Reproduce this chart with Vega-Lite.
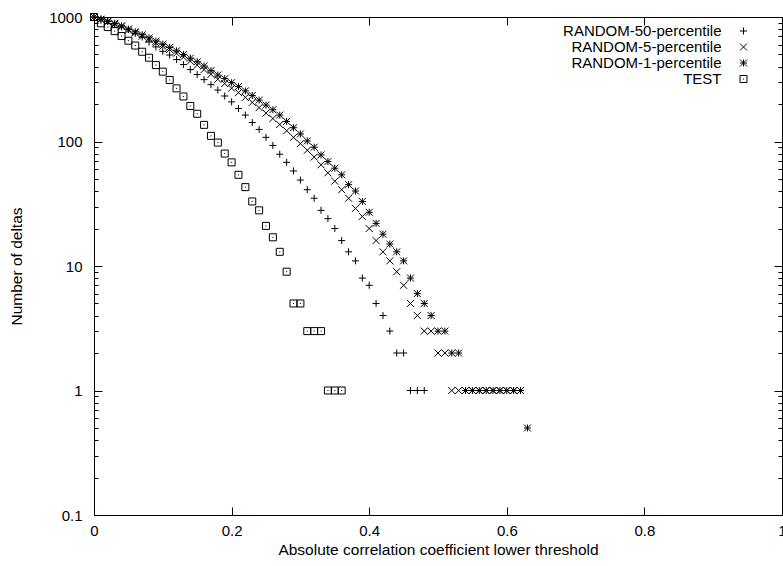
{
  "$schema": "https://vega.github.io/schema/vega-lite/v6.json",
  "width": 688,
  "height": 498,
  "autosize": {"type": "none"},
  "padding": {"left": 94, "top": 17, "right": 1, "bottom": 51},
  "background": "white",
  "config": {
    "view": {"stroke": "black", "strokeWidth": 1},
    "font": "Liberation Sans",
    "axis": {
      "domain": false,
      "grid": false,
      "labelFont": "Liberation Sans",
      "labelFontSize": 15,
      "labelColor": "black",
      "tickColor": "black",
      "tickWidth": 1,
      "titleFont": "Liberation Sans",
      "titleFontSize": 15.5,
      "titleFontWeight": "normal",
      "titleColor": "black",
      "labelOverlap": false,
      "labelFlush": false
    },
    "legend": {
      "labelFont": "Liberation Sans",
      "labelFontSize": 15,
      "labelColor": "black"
    }
  },
  "datasets": {
    "pts": [
      {"series": "RANDOM-50-percentile", "x": 0, "y": 1000},
      {"series": "RANDOM-50-percentile", "x": 0.01, "y": 965},
      {"series": "RANDOM-50-percentile", "x": 0.02, "y": 925},
      {"series": "RANDOM-50-percentile", "x": 0.03, "y": 880},
      {"series": "RANDOM-50-percentile", "x": 0.04, "y": 835},
      {"series": "RANDOM-50-percentile", "x": 0.05, "y": 790},
      {"series": "RANDOM-50-percentile", "x": 0.06, "y": 740},
      {"series": "RANDOM-50-percentile", "x": 0.07, "y": 690},
      {"series": "RANDOM-50-percentile", "x": 0.08, "y": 630},
      {"series": "RANDOM-50-percentile", "x": 0.09, "y": 575},
      {"series": "RANDOM-50-percentile", "x": 0.10, "y": 530},
      {"series": "RANDOM-50-percentile", "x": 0.11, "y": 495},
      {"series": "RANDOM-50-percentile", "x": 0.12, "y": 455},
      {"series": "RANDOM-50-percentile", "x": 0.13, "y": 415},
      {"series": "RANDOM-50-percentile", "x": 0.14, "y": 378},
      {"series": "RANDOM-50-percentile", "x": 0.15, "y": 345},
      {"series": "RANDOM-50-percentile", "x": 0.16, "y": 314},
      {"series": "RANDOM-50-percentile", "x": 0.17, "y": 286},
      {"series": "RANDOM-50-percentile", "x": 0.18, "y": 259},
      {"series": "RANDOM-50-percentile", "x": 0.19, "y": 232},
      {"series": "RANDOM-50-percentile", "x": 0.20, "y": 208},
      {"series": "RANDOM-50-percentile", "x": 0.21, "y": 184},
      {"series": "RANDOM-50-percentile", "x": 0.22, "y": 163},
      {"series": "RANDOM-50-percentile", "x": 0.23, "y": 142},
      {"series": "RANDOM-50-percentile", "x": 0.24, "y": 125},
      {"series": "RANDOM-50-percentile", "x": 0.25, "y": 108},
      {"series": "RANDOM-50-percentile", "x": 0.26, "y": 93},
      {"series": "RANDOM-50-percentile", "x": 0.27, "y": 79},
      {"series": "RANDOM-50-percentile", "x": 0.28, "y": 68},
      {"series": "RANDOM-50-percentile", "x": 0.29, "y": 58},
      {"series": "RANDOM-50-percentile", "x": 0.30, "y": 49},
      {"series": "RANDOM-50-percentile", "x": 0.31, "y": 41},
      {"series": "RANDOM-50-percentile", "x": 0.32, "y": 35},
      {"series": "RANDOM-50-percentile", "x": 0.33, "y": 28},
      {"series": "RANDOM-50-percentile", "x": 0.34, "y": 24},
      {"series": "RANDOM-50-percentile", "x": 0.35, "y": 20},
      {"series": "RANDOM-50-percentile", "x": 0.36, "y": 16},
      {"series": "RANDOM-50-percentile", "x": 0.37, "y": 13},
      {"series": "RANDOM-50-percentile", "x": 0.38, "y": 11},
      {"series": "RANDOM-50-percentile", "x": 0.39, "y": 8},
      {"series": "RANDOM-50-percentile", "x": 0.40, "y": 7},
      {"series": "RANDOM-50-percentile", "x": 0.41, "y": 5},
      {"series": "RANDOM-50-percentile", "x": 0.42, "y": 4},
      {"series": "RANDOM-50-percentile", "x": 0.43, "y": 3},
      {"series": "RANDOM-50-percentile", "x": 0.44, "y": 2},
      {"series": "RANDOM-50-percentile", "x": 0.45, "y": 2},
      {"series": "RANDOM-50-percentile", "x": 0.46, "y": 1},
      {"series": "RANDOM-50-percentile", "x": 0.47, "y": 1},
      {"series": "RANDOM-50-percentile", "x": 0.48, "y": 1},

      {"series": "RANDOM-5-percentile", "x": 0, "y": 1000},
      {"series": "RANDOM-5-percentile", "x": 0.01, "y": 955},
      {"series": "RANDOM-5-percentile", "x": 0.02, "y": 915},
      {"series": "RANDOM-5-percentile", "x": 0.03, "y": 875},
      {"series": "RANDOM-5-percentile", "x": 0.04, "y": 835},
      {"series": "RANDOM-5-percentile", "x": 0.05, "y": 785},
      {"series": "RANDOM-5-percentile", "x": 0.06, "y": 745},
      {"series": "RANDOM-5-percentile", "x": 0.07, "y": 700},
      {"series": "RANDOM-5-percentile", "x": 0.08, "y": 660},
      {"series": "RANDOM-5-percentile", "x": 0.09, "y": 620},
      {"series": "RANDOM-5-percentile", "x": 0.10, "y": 583},
      {"series": "RANDOM-5-percentile", "x": 0.11, "y": 548},
      {"series": "RANDOM-5-percentile", "x": 0.12, "y": 512},
      {"series": "RANDOM-5-percentile", "x": 0.13, "y": 476},
      {"series": "RANDOM-5-percentile", "x": 0.14, "y": 442},
      {"series": "RANDOM-5-percentile", "x": 0.15, "y": 410},
      {"series": "RANDOM-5-percentile", "x": 0.16, "y": 378},
      {"series": "RANDOM-5-percentile", "x": 0.17, "y": 346},
      {"series": "RANDOM-5-percentile", "x": 0.18, "y": 316},
      {"series": "RANDOM-5-percentile", "x": 0.19, "y": 292},
      {"series": "RANDOM-5-percentile", "x": 0.20, "y": 268},
      {"series": "RANDOM-5-percentile", "x": 0.21, "y": 247},
      {"series": "RANDOM-5-percentile", "x": 0.22, "y": 226},
      {"series": "RANDOM-5-percentile", "x": 0.23, "y": 206},
      {"series": "RANDOM-5-percentile", "x": 0.24, "y": 187},
      {"series": "RANDOM-5-percentile", "x": 0.25, "y": 169},
      {"series": "RANDOM-5-percentile", "x": 0.26, "y": 153},
      {"series": "RANDOM-5-percentile", "x": 0.27, "y": 137},
      {"series": "RANDOM-5-percentile", "x": 0.28, "y": 122},
      {"series": "RANDOM-5-percentile", "x": 0.29, "y": 108},
      {"series": "RANDOM-5-percentile", "x": 0.30, "y": 96},
      {"series": "RANDOM-5-percentile", "x": 0.31, "y": 85},
      {"series": "RANDOM-5-percentile", "x": 0.32, "y": 75},
      {"series": "RANDOM-5-percentile", "x": 0.33, "y": 65},
      {"series": "RANDOM-5-percentile", "x": 0.34, "y": 56},
      {"series": "RANDOM-5-percentile", "x": 0.35, "y": 48},
      {"series": "RANDOM-5-percentile", "x": 0.36, "y": 41},
      {"series": "RANDOM-5-percentile", "x": 0.37, "y": 35},
      {"series": "RANDOM-5-percentile", "x": 0.38, "y": 29},
      {"series": "RANDOM-5-percentile", "x": 0.39, "y": 25},
      {"series": "RANDOM-5-percentile", "x": 0.40, "y": 20},
      {"series": "RANDOM-5-percentile", "x": 0.41, "y": 16},
      {"series": "RANDOM-5-percentile", "x": 0.42, "y": 13},
      {"series": "RANDOM-5-percentile", "x": 0.43, "y": 11},
      {"series": "RANDOM-5-percentile", "x": 0.44, "y": 9},
      {"series": "RANDOM-5-percentile", "x": 0.45, "y": 7},
      {"series": "RANDOM-5-percentile", "x": 0.46, "y": 5},
      {"series": "RANDOM-5-percentile", "x": 0.47, "y": 4},
      {"series": "RANDOM-5-percentile", "x": 0.48, "y": 3},
      {"series": "RANDOM-5-percentile", "x": 0.49, "y": 3},
      {"series": "RANDOM-5-percentile", "x": 0.50, "y": 2},
      {"series": "RANDOM-5-percentile", "x": 0.51, "y": 2},
      {"series": "RANDOM-5-percentile", "x": 0.52, "y": 1},
      {"series": "RANDOM-5-percentile", "x": 0.53, "y": 1},
      {"series": "RANDOM-5-percentile", "x": 0.54, "y": 1},
      {"series": "RANDOM-5-percentile", "x": 0.55, "y": 1},
      {"series": "RANDOM-5-percentile", "x": 0.56, "y": 1},
      {"series": "RANDOM-5-percentile", "x": 0.57, "y": 1},
      {"series": "RANDOM-5-percentile", "x": 0.58, "y": 1},
      {"series": "RANDOM-5-percentile", "x": 0.59, "y": 1},
      {"series": "RANDOM-5-percentile", "x": 0.60, "y": 1},
      {"series": "RANDOM-5-percentile", "x": 0.61, "y": 1},

      {"series": "RANDOM-1-percentile", "x": 0, "y": 1000},
      {"series": "RANDOM-1-percentile", "x": 0.01, "y": 960},
      {"series": "RANDOM-1-percentile", "x": 0.02, "y": 925},
      {"series": "RANDOM-1-percentile", "x": 0.03, "y": 890},
      {"series": "RANDOM-1-percentile", "x": 0.04, "y": 850},
      {"series": "RANDOM-1-percentile", "x": 0.05, "y": 800},
      {"series": "RANDOM-1-percentile", "x": 0.06, "y": 760},
      {"series": "RANDOM-1-percentile", "x": 0.07, "y": 720},
      {"series": "RANDOM-1-percentile", "x": 0.08, "y": 680},
      {"series": "RANDOM-1-percentile", "x": 0.09, "y": 640},
      {"series": "RANDOM-1-percentile", "x": 0.10, "y": 605},
      {"series": "RANDOM-1-percentile", "x": 0.11, "y": 570},
      {"series": "RANDOM-1-percentile", "x": 0.12, "y": 535},
      {"series": "RANDOM-1-percentile", "x": 0.13, "y": 500},
      {"series": "RANDOM-1-percentile", "x": 0.14, "y": 467},
      {"series": "RANDOM-1-percentile", "x": 0.15, "y": 437},
      {"series": "RANDOM-1-percentile", "x": 0.16, "y": 404},
      {"series": "RANDOM-1-percentile", "x": 0.17, "y": 371},
      {"series": "RANDOM-1-percentile", "x": 0.18, "y": 342},
      {"series": "RANDOM-1-percentile", "x": 0.19, "y": 320},
      {"series": "RANDOM-1-percentile", "x": 0.20, "y": 297},
      {"series": "RANDOM-1-percentile", "x": 0.21, "y": 276},
      {"series": "RANDOM-1-percentile", "x": 0.22, "y": 255},
      {"series": "RANDOM-1-percentile", "x": 0.23, "y": 234},
      {"series": "RANDOM-1-percentile", "x": 0.24, "y": 215},
      {"series": "RANDOM-1-percentile", "x": 0.25, "y": 196},
      {"series": "RANDOM-1-percentile", "x": 0.26, "y": 180},
      {"series": "RANDOM-1-percentile", "x": 0.27, "y": 163},
      {"series": "RANDOM-1-percentile", "x": 0.28, "y": 145},
      {"series": "RANDOM-1-percentile", "x": 0.29, "y": 129},
      {"series": "RANDOM-1-percentile", "x": 0.30, "y": 115},
      {"series": "RANDOM-1-percentile", "x": 0.31, "y": 101},
      {"series": "RANDOM-1-percentile", "x": 0.32, "y": 90},
      {"series": "RANDOM-1-percentile", "x": 0.33, "y": 78},
      {"series": "RANDOM-1-percentile", "x": 0.34, "y": 69},
      {"series": "RANDOM-1-percentile", "x": 0.35, "y": 61},
      {"series": "RANDOM-1-percentile", "x": 0.36, "y": 54},
      {"series": "RANDOM-1-percentile", "x": 0.37, "y": 45},
      {"series": "RANDOM-1-percentile", "x": 0.38, "y": 40},
      {"series": "RANDOM-1-percentile", "x": 0.39, "y": 33},
      {"series": "RANDOM-1-percentile", "x": 0.40, "y": 27},
      {"series": "RANDOM-1-percentile", "x": 0.41, "y": 22},
      {"series": "RANDOM-1-percentile", "x": 0.42, "y": 18},
      {"series": "RANDOM-1-percentile", "x": 0.43, "y": 15},
      {"series": "RANDOM-1-percentile", "x": 0.44, "y": 13},
      {"series": "RANDOM-1-percentile", "x": 0.45, "y": 11},
      {"series": "RANDOM-1-percentile", "x": 0.46, "y": 8},
      {"series": "RANDOM-1-percentile", "x": 0.47, "y": 6},
      {"series": "RANDOM-1-percentile", "x": 0.48, "y": 5},
      {"series": "RANDOM-1-percentile", "x": 0.49, "y": 4},
      {"series": "RANDOM-1-percentile", "x": 0.50, "y": 3},
      {"series": "RANDOM-1-percentile", "x": 0.51, "y": 3},
      {"series": "RANDOM-1-percentile", "x": 0.52, "y": 2},
      {"series": "RANDOM-1-percentile", "x": 0.53, "y": 2},
      {"series": "RANDOM-1-percentile", "x": 0.54, "y": 1},
      {"series": "RANDOM-1-percentile", "x": 0.55, "y": 1},
      {"series": "RANDOM-1-percentile", "x": 0.56, "y": 1},
      {"series": "RANDOM-1-percentile", "x": 0.57, "y": 1},
      {"series": "RANDOM-1-percentile", "x": 0.58, "y": 1},
      {"series": "RANDOM-1-percentile", "x": 0.59, "y": 1},
      {"series": "RANDOM-1-percentile", "x": 0.60, "y": 1},
      {"series": "RANDOM-1-percentile", "x": 0.61, "y": 1},
      {"series": "RANDOM-1-percentile", "x": 0.62, "y": 1},
      {"series": "RANDOM-1-percentile", "x": 0.63, "y": 0.5},

      {"series": "TEST", "x": 0, "y": 1000},
      {"series": "TEST", "x": 0.01, "y": 890},
      {"series": "TEST", "x": 0.02, "y": 830},
      {"series": "TEST", "x": 0.03, "y": 770},
      {"series": "TEST", "x": 0.04, "y": 703},
      {"series": "TEST", "x": 0.05, "y": 645},
      {"series": "TEST", "x": 0.06, "y": 590},
      {"series": "TEST", "x": 0.07, "y": 526},
      {"series": "TEST", "x": 0.08, "y": 471},
      {"series": "TEST", "x": 0.09, "y": 411},
      {"series": "TEST", "x": 0.10, "y": 364},
      {"series": "TEST", "x": 0.11, "y": 312},
      {"series": "TEST", "x": 0.12, "y": 267},
      {"series": "TEST", "x": 0.13, "y": 230},
      {"series": "TEST", "x": 0.14, "y": 193},
      {"series": "TEST", "x": 0.15, "y": 167},
      {"series": "TEST", "x": 0.16, "y": 136},
      {"series": "TEST", "x": 0.17, "y": 111},
      {"series": "TEST", "x": 0.18, "y": 98},
      {"series": "TEST", "x": 0.19, "y": 80},
      {"series": "TEST", "x": 0.20, "y": 68},
      {"series": "TEST", "x": 0.21, "y": 54},
      {"series": "TEST", "x": 0.22, "y": 43},
      {"series": "TEST", "x": 0.23, "y": 33},
      {"series": "TEST", "x": 0.24, "y": 28},
      {"series": "TEST", "x": 0.25, "y": 21},
      {"series": "TEST", "x": 0.26, "y": 17},
      {"series": "TEST", "x": 0.27, "y": 13},
      {"series": "TEST", "x": 0.28, "y": 9},
      {"series": "TEST", "x": 0.29, "y": 5},
      {"series": "TEST", "x": 0.30, "y": 5},
      {"series": "TEST", "x": 0.31, "y": 3},
      {"series": "TEST", "x": 0.32, "y": 3},
      {"series": "TEST", "x": 0.33, "y": 3},
      {"series": "TEST", "x": 0.34, "y": 1},
      {"series": "TEST", "x": 0.35, "y": 1},
      {"series": "TEST", "x": 0.36, "y": 1}
    ]
  },
  "data": {"name": "pts"},
  "layer": [
    {
      "mark": {"type": "point", "filled": false, "color": "black", "strokeWidth": 1, "size": 49, "opacity": 1},
      "encoding": {
        "x": {
          "field": "x", "type": "quantitative",
          "scale": {"domain": [0, 1], "nice": false, "zero": false},
          "axis": {
            "orient": "bottom",
            "values": [0, 0.2, 0.4, 0.6, 0.8, 1],
            "labelExpr": "format(datum.value, '~g')",
            "tickSize": -8,
            "labelPadding": 16,
            "title": "Absolute correlation coefficient lower threshold",
            "titlePadding": 4
          }
        },
        "y": {
          "field": "y", "type": "quantitative",
          "scale": {"type": "log", "domain": [0.1, 1000], "nice": false},
          "axis": {
            "orient": "left",
            "values": [0.1, 0.2, 0.3, 0.4, 0.5, 0.6, 0.7, 0.8, 0.9, 1, 2, 3, 4, 5, 6, 7, 8, 9, 10, 20, 30, 40, 50, 60, 70, 80, 90, 100, 200, 300, 400, 500, 600, 700, 800, 900, 1000],
            "labelExpr": "datum.value == 1000 ? '1000' : datum.value == 100 ? '100' : datum.value == 10 ? '10' : datum.value == 1 ? '1' : abs(datum.value - 0.1) < 1e-9 ? '0.1' : ''",
            "tickSize": {"condition": {"test": "indexof([0.1, 1, 10, 100, 1000], datum.value) >= 0", "value": -8}, "value": -4},
            "labelPadding": 20,
            "title": "Number of deltas",
            "titlePadding": 24
          }
        },
        "shape": {
          "field": "series", "type": "nominal",
          "scale": {
            "domain": ["RANDOM-50-percentile", "RANDOM-5-percentile", "RANDOM-1-percentile", "TEST"],
            "range": [
              "M-1,0L1,0M0,-1L0,1",
              "M-1,-1L1,1M-1,1L1,-1",
              "M-1,0L1,0M0,-1L0,1M-1,-1L1,1M-1,1L1,-1",
              "M-1,-1L1,-1L1,1L-1,1Z M-0.15,0L0.15,0"
            ]
          },
          "legend": {
            "orient": "none",
            "legendX": 642,
            "legendY": 6.5,
            "title": null,
            "labelAlign": "right",
            "labelOffset": -29.5,
            "symbolSize": 49,
            "symbolStrokeWidth": 1,
            "symbolStrokeColor": "black",
            "rowPadding": 0,
            "labelLimit": 400,
            "padding": 0
          }
        }
      }
    },
    {
      "mark": {"type": "point", "opacity": 0},
      "encoding": {
        "x": {
          "field": "x", "type": "quantitative",
          "scale": {"domain": [0, 1], "nice": false, "zero": false},
          "axis": {"orient": "top", "values": [0, 0.2, 0.4, 0.6, 0.8, 1], "labels": false, "tickSize": -8, "title": null}
        },
        "y": {
          "field": "y", "type": "quantitative",
          "scale": {"type": "log", "domain": [0.1, 1000], "nice": false},
          "axis": {
            "orient": "right",
            "values": [0.1, 0.2, 0.3, 0.4, 0.5, 0.6, 0.7, 0.8, 0.9, 1, 2, 3, 4, 5, 6, 7, 8, 9, 10, 20, 30, 40, 50, 60, 70, 80, 90, 100, 200, 300, 400, 500, 600, 700, 800, 900, 1000],
            "labels": false,
            "tickSize": {"condition": {"test": "indexof([0.1, 1, 10, 100, 1000], datum.value) >= 0", "value": -8}, "value": -4},
            "title": null
          }
        }
      }
    }
  ],
  "resolve": {"axis": {"x": "independent", "y": "independent"}}
}
